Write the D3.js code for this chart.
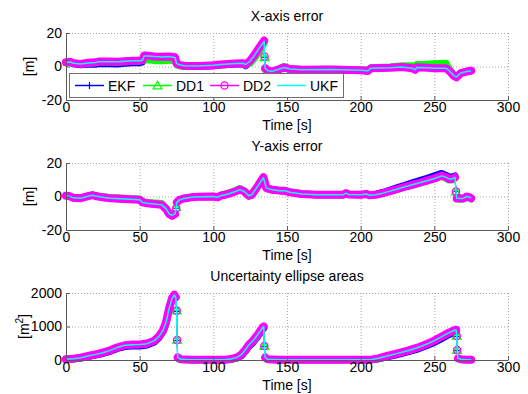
<!DOCTYPE html>
<html><head><meta charset="utf-8">
<script src="https://cdn.jsdelivr.net/npm/d3@7"></script>
<style>body{margin:0;background:#fff}svg{display:block}text{font-family:"Liberation Sans",Arial,sans-serif;fill:#000}</style>
</head><body><svg id="c" width="528" height="394"></svg>
<script>
// ---------- data ----------
const xTicks = [0, 50, 100, 150, 200, 250, 300];
const errTicks = [-20, 0, 20];
const areaTicks = [0, 1000, 2000];
const seriesNames = ["EKF", "DD1", "DD2", "UKF"];
const titles = ["X-axis error", "Y-axis error", "Uncertainty ellipse areas"];

const timeX = [0,3,5,10,15,20,22,30,35,40,45,50,52,53,55,60,65,70,74,75,77,80,90,100,105,110,115,120,122,125,128,131,134.5,134.8,135.2,137,140,145,148,152,160,180,200,205,207,220,228,235,237,238,245,250,258,260,263,265,268,272,275];
const jumpsX = [33];
const ekfX = [2.3,2.5,1.6,1.0,1.5, 1.3,1.8,1.7,1.5,1.9, 2.2,2.3,2.8,4.5,4.5, 4.0,3.8,4.2,3.8,1.5, 0.6,0.2,0.0,0.5,0.9, 1.2,1.5,1.6,0.4,3.0, 6.5,10.5,15.0,5.5,-1.5, -3.0,-3.2,-1.7,-0.8,-1.7, -2.2,-2.0,-2.4,-2.7,-1.2, -0.6,0.0,-0.5,-1.5,0.0, -0.2,-0.3,0.0,-1.5,-5.0, -6.0,-3.8,-3.0,-2.5];
const dd1X = [2.6,2.7,2.1,1.6,2.0, 2.3,2.8,2.7,2.6,2.9, 3.2,3.2,3.5,4.0,4.0, 3.5,3.5,3.8,3.5,1.0, 0.5,0.2,0.2,0.8,1.1, 1.5,1.8,2.0,0.8,2.0, 5.0,9.0,14.0,5.5,-2.0, -3.5,-3.5,-1.2,0.0,-1.2, -1.8,-1.6,-2.0,-2.3,-0.7, -0.3,0.5,0.4,0.2,1.2, 1.3,1.6,2.0,-1.8,-5.5, -6.5,-4.0,-3.0,-2.5];
const dd2X = [2.5,2.8,2.0,1.5,2.2, 2.5,3.0,3.0,2.8,3.2, 3.5,3.5,4.0,6.5,6.5, 6.0,5.8,6.0,5.5,2.0, 1.0,0.5,0.3,0.8,1.2, 1.5,1.8,2.0,1.2,3.5, 7.0,11.0,15.5,6.0,-1.0, -2.5,-3.0,-1.5,-0.5,-1.5, -2.0,-1.8,-2.2,-2.5,-1.0, -0.8,-0.3,-1.0,-2.0,-0.5, -0.8,-1.0,-1.0,-2.5,-5.5, -6.5,-4.0,-3.0,-2.5];
const ukfX = [2.4,2.7,1.9,1.5,2.1, 2.4,2.9,2.9,2.8,3.1, 3.4,3.4,3.9,6.3,6.3, 5.9,5.7,5.9,5.4,1.9, 1.0,0.5,0.3,0.8,1.2, 1.5,1.8,1.9,1.2,3.3, 6.8,10.8,15.0,6.0,-1.0, -2.5,-2.9,-1.5,-0.6,-1.5, -2.0,-1.8,-2.2,-2.5,-1.0, -0.8,-0.3,-1.0,-2.0,-0.6, -0.8,-1.0,-1.0,-2.4,-5.3, -6.2,-3.9,-3.0,-2.5];

const timeY = [0,2,5,10,15,18,20,25,30,40,50,52,55,60,65,68,70,72,74,74.8,75.2,77,80,85,90,100,103,105,110,115,118,121,124,126,130,134,136,140,145,148,152,160,170,188,190,192,200,204,206,210,215,220,225,230,235,240,245,250,255,258,260,262,264,264.7,265.2,268,270,272,274,275];
const jumpsY = [19, 63];
const ekfY = [0.5,0.3,-0.8,-1.0,0.2, 0.8,0.3,-0.5,-1.0,-1.5, -2.0,-3.5,-4.0,-4.5,-5.0, -7.5,-10.5,-11.5,-10.5,-7.0, -3.5,-2.0,-1.2,-0.5,-0.2, 0.0,-0.5,0.5,1.5,3.0, 4.2,3.0,0.5,1.0,6.0, 11.5,5.0,4.0,3.5,3.5, 2.5,1.5,1.0,1.0,2.0, 1.2,1.0,1.5,0.7,1.2, 2.4,3.8,5.3,6.7,8.1, 9.5,10.9,12.3,13.8,12.6, 11.6,11.6,12.3,3.0,-1.0, -1.2,-1.0,0.0,-0.5,-1.0];
const dd1Y = [0.7,0.5,-0.6,-0.8,0.4, 1.0,0.5,-0.2,-0.6,-1.0, -1.5,-3.0,-3.4,-3.8,-4.2, -7.0,-10.0,-11.5,-10.5,-6.5, -3.5,-2.0,-1.0,-0.3,0.0, 0.2,-0.3,0.8,2.0,3.6, 4.8,3.0,0.0,0.6,5.6, 11.2,5.0,4.2,3.8,3.8, 2.7,1.6,1.1,1.1,2.1, 1.3,1.1,1.6,0.8,1.0, 1.9,3.0,4.3,5.6,6.8, 8.0,9.3,10.6,12.2,10.8, 9.8,9.8,10.8,3.0,-1.5, -1.7,-1.5,-0.5,-1.0,-1.5];
const dd2Y = [0.5,0.3,-0.8,-1.0,0.2, 0.8,0.3,-0.5,-1.0,-1.5, -2.0,-3.5,-4.0,-4.5,-5.0, -7.5,-10.5,-11.5,-10.5,-7.0, -3.5,-2.0,-1.2,-0.5,-0.2, 0.0,-0.5,0.5,1.5,3.0, 4.2,3.0,0.5,1.0,6.0, 11.5,5.0,4.0,3.5,3.5, 2.5,1.5,1.0,1.0,2.0, 1.2,1.0,1.5,0.7,1.0, 2.0,3.2,4.5,5.8,7.0, 8.2,9.5,10.8,12.5,11.5, 10.5,10.5,11.5,3.0,-1.0, -1.2,-1.0,0.0,-0.5,-1.0];
const ukfY = [0.4,0.2,-0.8,-1.0,0.2, 0.7,0.3,-0.5,-1.0,-1.5, -2.0,-3.5,-4.0,-4.5,-5.0, -7.4,-10.3,-11.3,-10.4,-7.0, -3.5,-2.0,-1.2,-0.5,-0.2, 0.0,-0.5,0.5,1.5,3.0, 4.1,3.0,0.5,1.0,6.0, 11.3,5.0,4.0,3.5,3.5, 2.5,1.5,1.0,1.0,2.0, 1.2,1.0,1.5,0.7,1.0, 2.0,3.2,4.5,5.8,7.0, 8.2,9.4,10.7,12.3,11.4, 10.5,10.5,11.4,3.0,-1.0, -1.2,-1.0,0.0,-0.5,-1.0];

const timeA = [0,5,10,15,20,25,30,35,40,45,50,55,60,63,66,68,70,72,73.5,74.5,75.1,75.4,75.8,78,85,100,108,112,116,119,122,124,127,130,132,133.5,134.2,134.6,135.2,137,145,200,207,212,218,225,232,238,245,250,255,260,264,264.8,265.2,265.5,266,268,272,275];
const jumpsA = [20, 21, 37, 54, 55];
const ekfA = [15,32,60,105,150, 195,260,345,400,415, 420,445,535,660,860, 1110,1510,1830,1935,1860, 1450,580,60,15,5, 5,8,22,60,125, 270,395,525,690,820, 920,950,400,60,15, 5,5,8,35,95, 165,240,315,430,525, 640,760,845,850,700, 280,40,15,8,8];
const dd1A = [20,40,70,120,170, 220,290,380,440,455, 460,485,575,700,900, 1150,1560,1860,1950,1890, 1480,600,80,20,5, 5,10,25,65,140, 290,420,550,720,850, 960,990,420,80,20, 5,5,10,45,115, 195,275,355,470,570, 690,810,890,890,720, 300,50,20,10,10];
const dd2A = [20,40,70,120,170, 220,290,380,440,460, 465,490,580,700,900, 1150,1550,1850,1950,1880, 1480,600,80,20,5, 5,10,30,80,160, 320,450,580,750,880, 980,1000,420,80,20, 5,5,10,50,120, 200,280,360,480,580, 700,820,900,900,720, 300,50,20,10,10];
const ukfA = [20,40,70,118,168, 218,288,378,438,458, 462,488,578,700,900, 1140,1540,1840,1940,1870, 1470,590,80,20,5, 5,10,30,78,158, 318,448,578,748,878, 975,995,420,80,20, 5,5,10,50,118, 198,278,358,478,578, 698,818,895,895,720, 300,50,20,10,10];

// ---------- styles ----------
const colors = {EKF: "#0000ff", DD1: "#00ff00", DD2: "#ff00ff", UKF: "#00ffff"};
const bandW = {EKF: 7, DD1: 7, DD2: 8, UKF: 0};
const thinW = {EKF: 1, DD1: 1, DD2: 1, UKF: 1.5};
const markerOf = {EKF: "plus", DD1: "tri", DD2: "circ", UKF: null};
const font = '"Liberation Sans", Arial, sans-serif';

const svg = d3.select("#c");
const L = 66, R = 508;
const x = d3.scaleLinear().domain([0, 300]).range([L, R]);
const fmt = d => String(d);

const panels = [
  {top: 33, bottom: 100, domain: [-20, 20], ticks: errTicks, t: timeX, jumps: jumpsX,
   data: {EKF: ekfX, DD1: dd1X, DD2: dd2X, UKF: ukfX}, ylab: "m", sup: null, labX: 34, legend: true},
  {top: 163, bottom: 230, domain: [-20, 20], ticks: errTicks, t: timeY, jumps: jumpsY,
   data: {EKF: ekfY, DD1: dd1Y, DD2: dd2Y, UKF: ukfY}, ylab: "m", sup: null, labX: 34, legend: false},
  {top: 293, bottom: 360, domain: [0, 2000], ticks: areaTicks, t: timeA, jumps: jumpsA,
   data: {EKF: ekfA, DD1: dd1A, DD2: dd2A, UKF: ukfA}, ylab: "m", sup: "2", labX: 29, legend: false}
];

function drawMarker(g, kind, cx, cy, col) {
  if (kind === "plus") {
    g.append("path").attr("d", `M${cx-3.5},${cy}H${cx+3.5}M${cx},${cy-3.5}V${cy+3.5}`)
      .attr("stroke", col).attr("stroke-width", 1.2).attr("fill", "none");
  } else if (kind === "tri") {
    g.append("path").attr("d", d3.symbol(d3.symbolTriangle, 34)())
      .attr("transform", `translate(${cx},${cy+0.8})`)
      .attr("stroke", col).attr("stroke-width", 1.2).attr("fill", "none");
  } else if (kind === "circ") {
    g.append("circle").attr("cx", cx).attr("cy", cy).attr("r", 3.6)
      .attr("stroke", col).attr("stroke-width", 1.3).attr("fill", "none");
  }
}

panels.forEach((p, pi) => {
  const y = d3.scaleLinear().domain(p.domain).range([p.bottom, p.top]);
  const h = p.bottom - p.top;
  const g = svg.append("g");

  // grid
  g.append("g").attr("transform", `translate(0,${p.bottom})`)
    .call(d3.axisBottom(x).tickValues(xTicks).tickSize(-h).tickFormat(""))
    .call(a => a.select(".domain").remove())
    .call(a => a.selectAll("line").attr("stroke", "#a8a8a8").attr("stroke-dasharray", "1,2"));
  g.append("g").attr("transform", `translate(${L},0)`)
    .call(d3.axisLeft(y).tickValues(p.ticks).tickSize(-(R - L)).tickFormat(""))
    .call(a => a.select(".domain").remove())
    .call(a => a.selectAll("line").attr("stroke", "#a8a8a8").attr("stroke-dasharray", "1,2"));

  // series
  const jumpSet = new Set(p.jumps);
  seriesNames.forEach(name => {
    const vals = p.data[name];
    const pts = p.t.map((t, i) => [t, vals[i]]);
    const col = colors[name];
    if (bandW[name] > 0) {
      const band = d3.line().defined((d, i) => !jumpSet.has(i)).x(d => x(d[0])).y(d => y(d[1]));
      g.append("path").attr("d", band(pts)).attr("fill", "none").attr("stroke", col)
        .attr("stroke-width", bandW[name]).attr("stroke-linejoin", "round").attr("stroke-linecap", "round");
    }
    const thin = d3.line().x(d => x(d[0])).y(d => y(d[1]));
    g.append("path").attr("d", thin(pts)).attr("fill", "none").attr("stroke", col)
      .attr("stroke-width", thinW[name]).attr("stroke-linejoin", "round");
    if (markerOf[name]) {
      p.jumps.forEach(i => drawMarker(g, markerOf[name], x(p.t[i]), y(vals[i]), col));
    }
  });

  // axes
  const ax = g.append("g").attr("transform", `translate(0,${p.bottom})`)
    .call(d3.axisBottom(x).tickValues(xTicks).tickFormat(fmt).tickSizeInner(-4).tickSizeOuter(0).tickPadding(2));
  const ay = g.append("g").attr("transform", `translate(${L},0)`)
    .call(d3.axisLeft(y).tickValues(p.ticks).tickFormat(fmt).tickSizeInner(-4).tickSizeOuter(0).tickPadding(4));
  [ax, ay].forEach(a => {
    a.select(".domain").attr("stroke", "#5a5a5a");
    a.selectAll(".tick line").attr("stroke", "#5a5a5a");
    a.selectAll("text").attr("font-size", 14).attr("font-family", font).attr("fill", "#000");
  });

  // title
  g.append("text").attr("x", (L + R) / 2).attr("y", p.top - 12.5).attr("text-anchor", "middle")
    .attr("font-size", 14).text(titles[pi]);
  // x label
  g.append("text").attr("x", (L + R) / 2).attr("y", p.bottom + 30).attr("text-anchor", "middle")
    .attr("font-size", 14).text("Time [s]");
  // y label
  const yl = g.append("text").attr("transform", `translate(${p.labX},${(p.top + p.bottom) / 2}) rotate(-90)`)
    .attr("text-anchor", "middle").attr("font-size", 14);
  yl.append("tspan").text("[" + p.ylab);
  if (p.sup) {
    yl.append("tspan").attr("dy", -6).attr("font-size", 10).text(p.sup);
    yl.append("tspan").attr("dy", 6).text("]");
  } else {
    yl.append("tspan").text("]");
  }

  // legend
  if (p.legend) {
    const lg = g.append("g");
    lg.append("rect").attr("x", 69.5).attr("y", 73.5).attr("width", 274).attr("height", 24)
      .attr("fill", "#fff").attr("stroke", "#6e6e6e").attr("stroke-width", 1);
    const starts = [75, 143, 210, 277];
    const ly = 85.5;
    seriesNames.forEach((name, i) => {
      const x0 = starts[i];
      lg.append("line").attr("x1", x0).attr("x2", x0 + 29).attr("y1", ly).attr("y2", ly)
        .attr("stroke", colors[name]).attr("stroke-width", 1.5);
      if (markerOf[name]) drawMarker(lg, markerOf[name], x0 + 14.5, ly, colors[name]);
      lg.append("text").attr("x", x0 + 33).attr("y", ly + 5).attr("font-size", 14).text(name);
    });
  }
});
</script></body></html>
